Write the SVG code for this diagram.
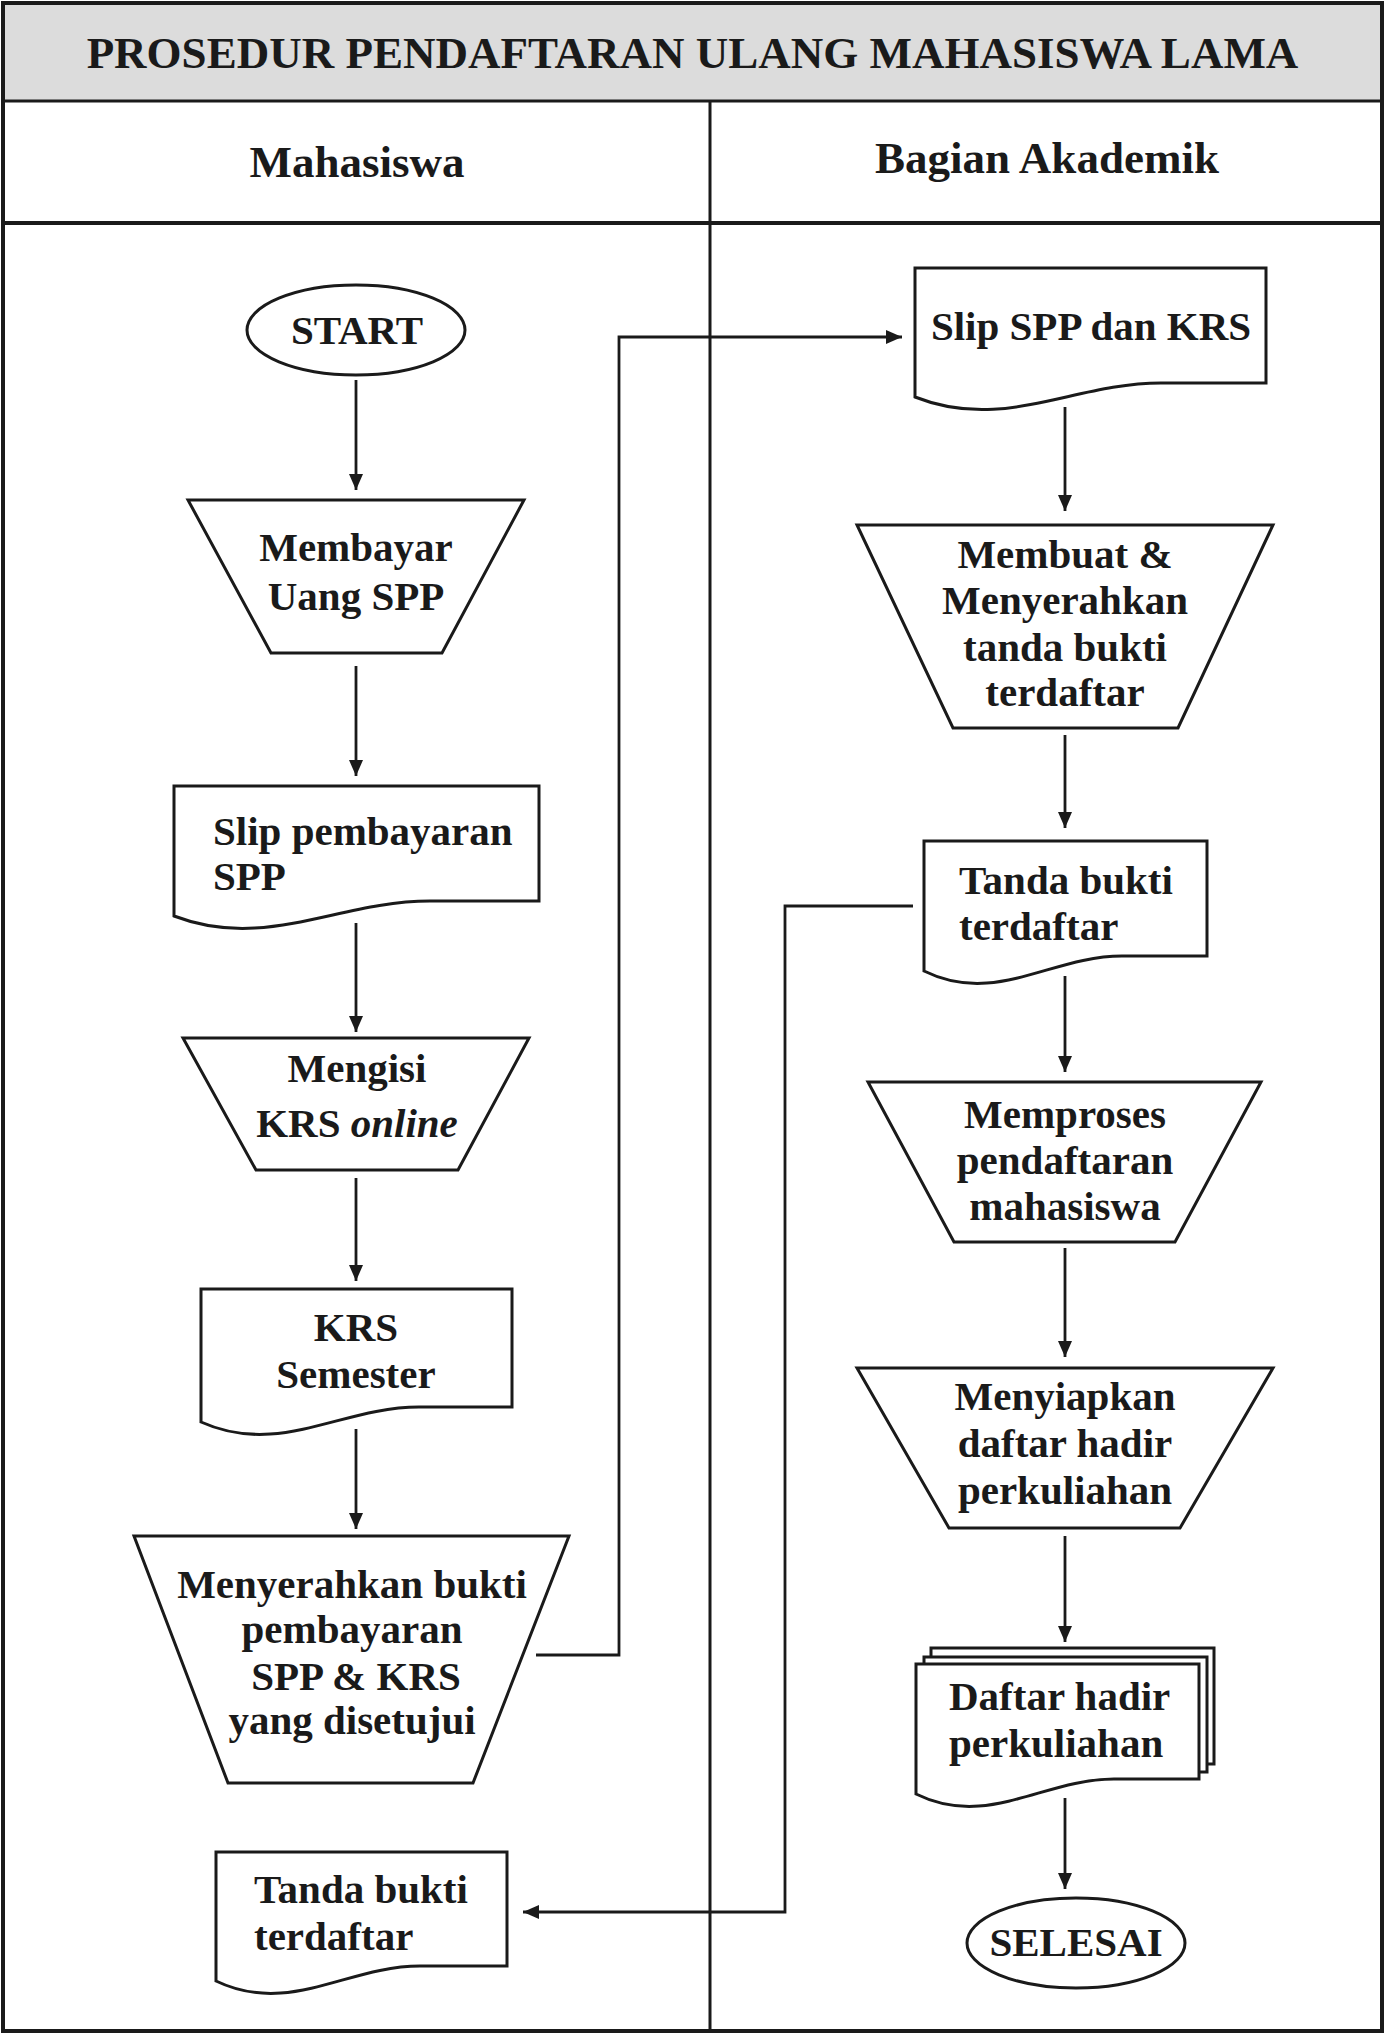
<svg xmlns="http://www.w3.org/2000/svg" width="1385" height="2035" viewBox="0 0 1385 2035">
<style>
text{font-family:"Liberation Serif","Times New Roman",serif;font-weight:bold;fill:#1a1a1a;font-size:41px}
.c{text-anchor:middle}
.s{text-anchor:start}
.shape{fill:#fff;stroke:#1a1a1a;stroke-width:3}
.conn{fill:none;stroke:#1a1a1a;stroke-width:2.8}
.hdr{font-size:45px}
</style>
<defs>
<marker id="ah" markerUnits="userSpaceOnUse" markerWidth="17" markerHeight="15" refX="16" refY="7" orient="auto">
<path d="M0,0 L16,7 L0,14 Z" fill="#1a1a1a"/>
</marker>
</defs>
<rect x="0" y="0" width="1385" height="2035" fill="#fff"/>
<g id="frame">
<rect x="3" y="3" width="1379" height="98" fill="#dcdcdc"/>
<rect x="3" y="3" width="1379" height="2028" fill="none" stroke="#1a1a1a" stroke-width="4"/>
<line x1="3" y1="101" x2="1382" y2="101" stroke="#1a1a1a" stroke-width="3"/>
<line x1="3" y1="223" x2="1382" y2="223" stroke="#1a1a1a" stroke-width="4"/>
<line x1="710" y1="101" x2="710" y2="2031" stroke="#1a1a1a" stroke-width="3"/>
<text class="c hdr" x="692.5" y="68">PROSEDUR PENDAFTARAN ULANG MAHASISWA LAMA</text>
<text class="c hdr" x="357" y="177">Mahasiswa</text>
<text class="c hdr" x="1047" y="173">Bagian Akademik</text>
</g>
<g id="connectors">
<path class="conn" d="M356,380 V490" marker-end="url(#ah)"/>
<path class="conn" d="M356,666 V776" marker-end="url(#ah)"/>
<path class="conn" d="M356,923 V1032" marker-end="url(#ah)"/>
<path class="conn" d="M356,1178 V1281" marker-end="url(#ah)"/>
<path class="conn" d="M356,1429 V1529" marker-end="url(#ah)"/>
<path class="conn" d="M536,1655 H619 V337 H902" marker-end="url(#ah)"/>
<path class="conn" d="M1065,407 V511" marker-end="url(#ah)"/>
<path class="conn" d="M1065,735 V828" marker-end="url(#ah)"/>
<path class="conn" d="M913,906 H785 V1912 H523" marker-end="url(#ah)"/>
<path class="conn" d="M1065,976 V1072" marker-end="url(#ah)"/>
<path class="conn" d="M1065,1248 V1357" marker-end="url(#ah)"/>
<path class="conn" d="M1065,1536 V1642" marker-end="url(#ah)"/>
<path class="conn" d="M1065,1798 V1889" marker-end="url(#ah)"/>
</g>
<g id="start">
<ellipse class="shape" cx="356" cy="330" rx="109" ry="45"/>
<text class="c" x="357" y="344">START</text>
</g>
<g id="membayar">
<polygon class="shape" points="188,500 524,500 442,653 271,653"/>
<text class="c" x="356" y="561">Membayar</text>
<text class="c" x="356" y="610">Uang SPP</text>
</g>
<g id="slip-pembayaran">
<path class="shape" d="M174,786 H539 V901 H430 C338,901 265,951 174,916 Z"/>
<text class="s" x="213" y="845">Slip pembayaran</text>
<text class="s" x="213" y="890">SPP</text>
</g>
<g id="mengisi">
<polygon class="shape" points="183,1038 529,1038 458,1170 256,1170"/>
<text class="c" x="357" y="1082">Mengisi</text>
<text class="c" x="357" y="1137">KRS <tspan font-style="italic">online</tspan></text>
</g>
<g id="krs-semester">
<path class="shape" d="M201,1289 H512 V1407 H419 C341,1407 279,1457 201,1422 Z"/>
<text class="c" x="356" y="1341">KRS</text>
<text class="c" x="356" y="1388">Semester</text>
</g>
<g id="menyerahkan">
<polygon class="shape" points="134,1536 569,1536 473,1783 228,1783"/>
<text class="c" x="352" y="1598">Menyerahkan bukti</text>
<text class="c" x="352" y="1643">pembayaran</text>
<text class="c" x="356" y="1690">SPP &amp; KRS</text>
<text class="c" x="352" y="1734">yang disetujui</text>
</g>
<g id="tanda-kiri">
<path class="shape" d="M216,1852 H507 V1966 H420 C347,1966 289,2016 216,1981 Z"/>
<text class="s" x="254" y="1903">Tanda bukti</text>
<text class="s" x="254" y="1950">terdaftar</text>
</g>
<g id="slip-spp-krs">
<path class="shape" d="M915,268 H1266 V383 H1161 C1073,383 1003,432 915,397 Z"/>
<text class="c" x="1091" y="340">Slip SPP dan KRS</text>
</g>
<g id="membuat">
<polygon class="shape" points="857,525 1273,525 1178,728 953,728"/>
<text class="c" x="1065" y="568">Membuat &amp;</text>
<text class="c" x="1065" y="614">Menyerahkan</text>
<text class="c" x="1065" y="661">tanda bukti</text>
<text class="c" x="1065" y="706">terdaftar</text>
</g>
<g id="tanda-kanan">
<path class="shape" d="M924,841 H1207 V956 H1122 C1051,956 995,1006 924,971 Z"/>
<text class="s" x="959" y="894">Tanda bukti</text>
<text class="s" x="959" y="940">terdaftar</text>
</g>
<g id="memproses">
<polygon class="shape" points="868,1082 1261,1082 1175,1242 954,1242"/>
<text class="c" x="1065" y="1128">Memproses</text>
<text class="c" x="1065" y="1174">pendaftaran</text>
<text class="c" x="1065" y="1220">mahasiswa</text>
</g>
<g id="menyiapkan">
<polygon class="shape" points="857,1368 1273,1368 1180,1528 949,1528"/>
<text class="c" x="1065" y="1410">Menyiapkan</text>
<text class="c" x="1065" y="1457">daftar hadir</text>
<text class="c" x="1065" y="1504">perkuliahan</text>
</g>
<g id="daftar-hadir">
<rect class="shape" x="931" y="1648" width="283" height="116"/>
<rect class="shape" x="924" y="1657" width="283" height="115"/>
<path class="shape" d="M916,1664 H1199 V1779 H1114 C1043,1779 987,1829 916,1794 Z"/>
<text class="s" x="949" y="1710">Daftar hadir</text>
<text class="s" x="949" y="1757">perkuliahan</text>
</g>
<g id="selesai">
<ellipse class="shape" cx="1076" cy="1943" rx="109" ry="45"/>
<text class="c" x="1076" y="1956">SELESAI</text>
</g>
</svg>
